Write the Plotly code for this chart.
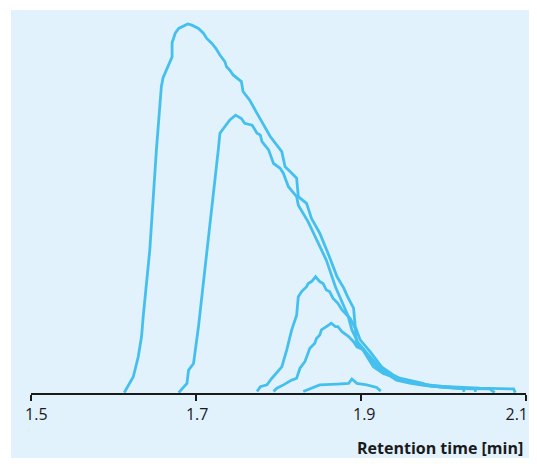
import plotly.graph_objects as go

# Retention time [min] and signal (arbitrary units, tallest peak = 100)
t1 = [1.613, 1.624, 1.630, 1.634, 1.636, 1.644, 1.652, 1.658, 1.660, 1.666, 1.671, 1.671, 1.675,
      1.679, 1.685, 1.690, 1.695, 1.703, 1.709, 1.713, 1.719, 1.724, 1.729, 1.735, 1.737, 1.741,
      1.745, 1.755, 1.757, 1.765, 1.774, 1.782, 1.790, 1.804, 1.808, 1.814, 1.822, 1.824, 1.834,
      1.840, 1.850, 1.860, 1.871, 1.879, 1.884, 1.891, 1.893, 1.899, 1.911, 1.925, 1.939, 1.947,
      1.959, 1.975, 1.984, 2.020, 2.044, 2.085, 2.087]
s1 = [0.1, 4.4, 9.8, 15.3, 20.7, 38.8, 65.9, 83.0, 85.4, 88.4, 91.1, 94.9, 97.6,
      98.8, 99.5, 100.0, 99.7, 98.8, 97.5, 96.1, 94.8, 93.4, 91.6, 89.8, 88.4, 87.5,
      86.2, 84.4, 81.7, 79.4, 75.8, 72.6, 69.5, 65.4, 61.3, 60.0, 58.2, 53.2, 51.4,
      47.3, 43.3, 37.9, 31.5, 28.5, 26.0, 23.0, 18.0, 14.4, 11.2, 7.1, 4.9, 4.0,
      3.4, 2.6, 1.9, 1.5, 1.3, 1.1, 0.1]

t2 = [1.679, 1.689, 1.691, 1.697, 1.703, 1.717, 1.727, 1.729, 1.733, 1.741, 1.748, 1.755, 1.759,
      1.768, 1.774, 1.778, 1.780, 1.788, 1.794, 1.802, 1.806, 1.812, 1.822, 1.824, 1.836, 1.846,
      1.858, 1.869, 1.876, 1.884, 1.889, 1.896, 1.908, 1.923, 1.938, 1.953, 1.972, 1.996, 2.026,
      2.056, 2.062]
s2 = [0.1, 2.6, 6.2, 8.0, 18.0, 45.1, 65.9, 70.4, 71.7, 74.0, 75.3, 74.4, 73.1,
      72.6, 70.4, 69.9, 68.1, 65.9, 62.2, 60.9, 59.5, 55.9, 53.2, 50.9, 46.4, 41.5,
      36.0, 28.8, 25.2, 21.1, 17.1, 13.8, 10.6, 6.8, 4.3, 3.3, 2.4, 1.9, 1.2,
      1.1, 0.1]

t3 = [1.774, 1.778, 1.786, 1.792, 1.804, 1.810, 1.816, 1.822, 1.824, 1.828, 1.834, 1.836, 1.840,
      1.845, 1.850, 1.854, 1.858, 1.862, 1.866, 1.872, 1.877, 1.887, 1.893, 1.895, 1.901, 1.907,
      1.915, 1.927, 1.943, 1.959, 1.978, 1.996, 2.022, 2.038, 2.039]
s3 = [0.4, 1.7, 2.2, 4.0, 7.1, 11.7, 17.1, 21.1, 26.1, 27.5, 28.8, 29.7, 30.2,
      31.5, 30.2, 29.7, 27.9, 27.5, 25.7, 24.3, 22.5, 20.2, 17.5, 13.0, 12.1, 9.8,
      7.1, 5.3, 4.0, 3.0, 2.2, 1.6, 1.2, 1.1, 0.3]

t4 = [1.794, 1.798, 1.806, 1.816, 1.822, 1.826, 1.832, 1.838, 1.844, 1.846, 1.850, 1.852, 1.858,
      1.864, 1.869, 1.872, 1.877, 1.885, 1.891, 1.895, 1.903, 1.911, 1.919, 1.931, 1.943, 1.959,
      1.978, 2.002, 2.024, 2.025]
s4 = [0.4, 1.3, 2.2, 3.5, 4.0, 6.7, 8.5, 12.1, 13.5, 14.8, 15.7, 17.1, 18.0,
      18.9, 18.0, 18.0, 16.6, 15.3, 13.9, 12.5, 11.7, 9.4, 7.1, 5.3, 3.5, 2.7,
      2.0, 1.5, 1.2, 0.3]

t5 = [1.830, 1.840, 1.850, 1.871, 1.885, 1.889, 1.895, 1.907, 1.919, 1.924]
s5 = [0.4, 1.3, 2.2, 2.4, 2.6, 3.8, 2.6, 2.2, 1.5, 0.5]

x_ticks = [1.5, 1.7, 1.9, 2.1]
x_tick_labels = ["1.5", "1.7", "1.9", "2.1"]
x_title = "Retention time [min]"

LINE = "#45c0ee"
BG = "#e1f2fd"
NB = "\u00a0"

fig = go.Figure()
for tx, sy in [(t1, s1), (t2, s2), (t3, s3), (t4, s4), (t5, s5)]:
    fig.add_trace(go.Scatter(x=tx, y=sy, mode="lines",
                             line=dict(color=LINE, width=2.8),
                             hoverinfo="skip", showlegend=False))

# the page body adds an 8px offset; keep the figure inside the window
W, H = 529, 450
L, R, T, B = 23, 11, 2, 65
pw, ph = W - L - R, H - T - B

fig.add_shape(type="rect", xref="paper", yref="paper",
              x0=(3 - L) / pw, x1=(W + 2 - L) / pw,
              y0=-(B + 2) / ph, y1=1.0,
              fillcolor=BG, line=dict(width=0), layer="below")

fig.add_annotation(text="<b>" + x_title + "</b>", xref="paper", yref="paper",
                   x=(517 - L) / pw, y=-(440 - (H - B)) / ph,
                   xanchor="right", yanchor="middle", showarrow=False,
                   font=dict(family="Open Sans", size=16, color="#1a1a1a"))

# labels sit slightly off-centre of their ticks, as in the reference
shown_labels = [NB * 4 + x_tick_labels[0], NB * 2 + x_tick_labels[1],
                NB * 3 + x_tick_labels[2], x_tick_labels[3] + NB * 3]

fig.update_layout(
    width=W, height=H,
    margin=dict(l=L, r=R, t=T, b=B),
    paper_bgcolor="white",
    plot_bgcolor=BG,
    showlegend=False,
    xaxis=dict(range=[1.5, 2.1], tickmode="array", tickvals=x_ticks, ticktext=shown_labels,
               showgrid=False, zeroline=False, showline=True, linecolor="#1a1a1a", linewidth=1.5,
               ticks="outside", ticklen=6, tickwidth=1.5, tickcolor="#1a1a1a",
               ticklabeloverflow="allow", automargin=False, ticklabelshift=-3,
               tickfont=dict(family="Open Sans", size=16, color="#1a1a1a")),
    yaxis=dict(range=[0, 103.8], visible=False),
)

fig.write_html("out.html")
